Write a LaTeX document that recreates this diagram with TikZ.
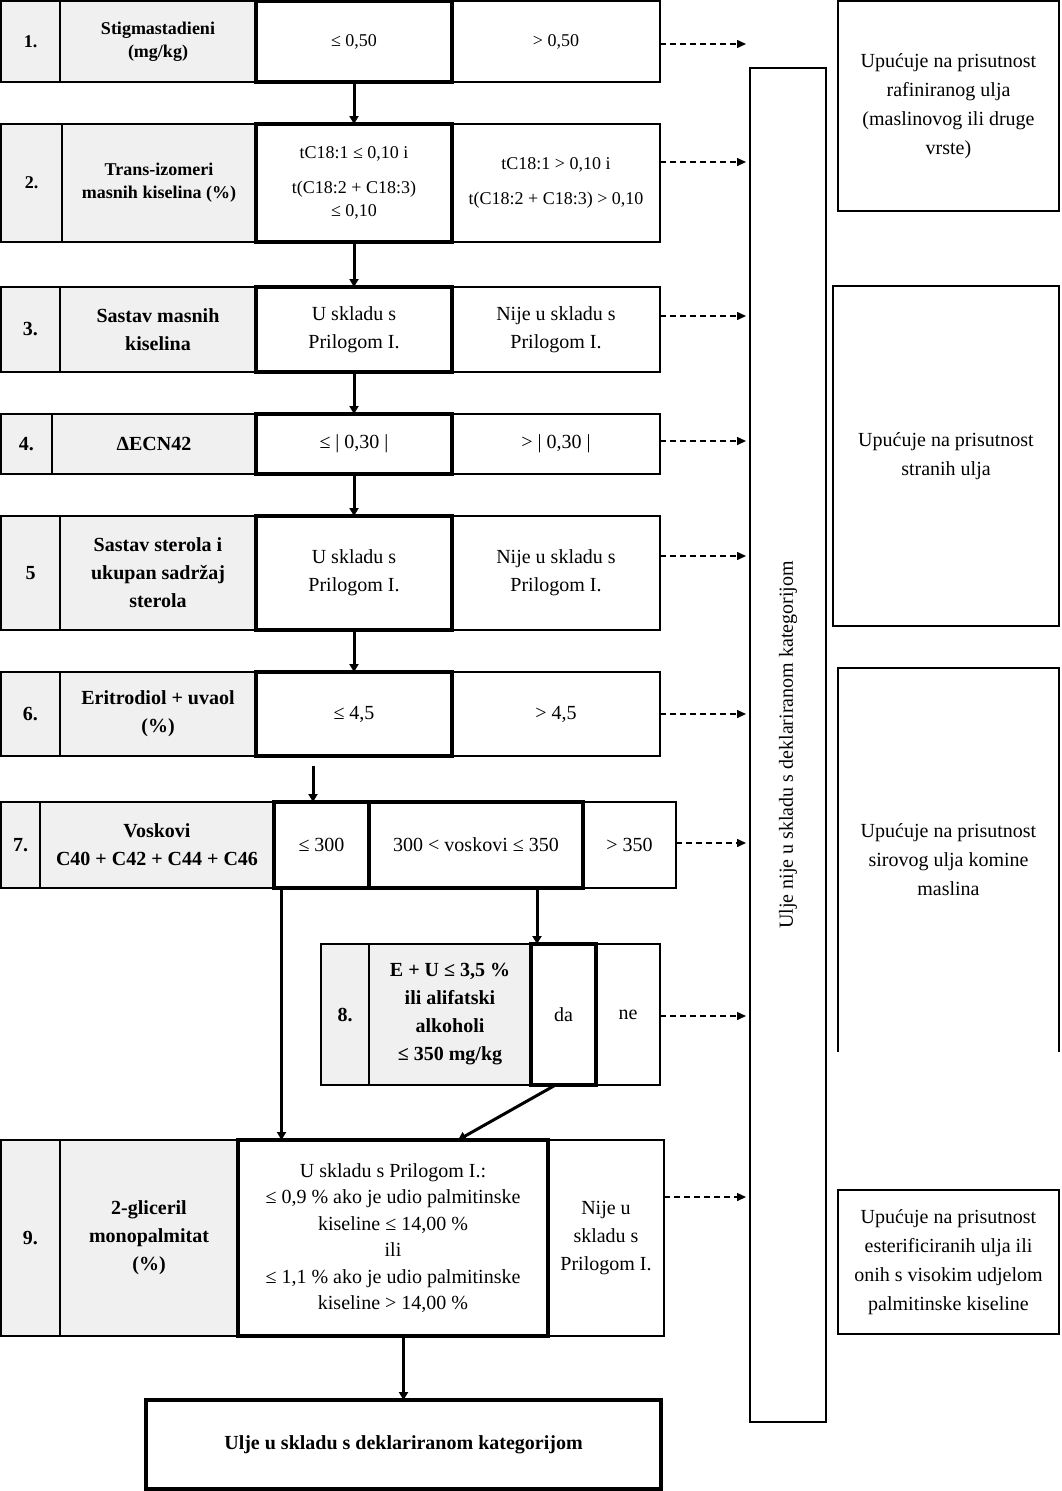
\documentclass[tikz,border=0pt]{standalone}
\usepackage{fontspec}
\setmainfont{Liberation Serif}
\usetikzlibrary{arrows.meta}
\tikzset{
  cellbase/.style={draw, line width=1.6pt, inner sep=0pt, outer sep=0pt, align=center,
    font={\fontsize{20}{28}\selectfont}},
  wcell/.style={cellbase, fill=white},
  gcell/.style={cellbase, fill=black!6},
  lcell/.style={gcell, font={\fontsize{20}{28}\selectfont\bfseries}},
  slcell/.style={gcell, font={\fontsize{18}{23}\selectfont\bfseries}},
  swcell/.style={wcell, font={\fontsize{18}{23}\selectfont}},
  bcell/.style={wcell, line width=3.8pt},
  sbcell/.style={swcell, line width=3.8pt},
  rbox/.style={cellbase, line width=1.9pt, font={\fontsize{20}{29}\selectfont}},
  nobox/.style={inner sep=0pt, outer sep=0pt, align=center, font={\fontsize{20}{29}\selectfont}},
  arr/.style={line width=3pt, -{Triangle[length=8pt,width=9pt]}},
  darr/.style={line width=1.5pt, dash pattern=on 6pt off 4pt, -{Triangle[length=9pt,width=8pt]}, shorten >=4pt},
}
\newcommand\mkcell[7]{\node[#6, minimum width={(#4)-(#2)}, minimum height={(#5)-(#3)}] (#1) at ({((#2)+(#4))/2},{((#3)+(#5))/2}) {#7};}
\begin{document}
\begin{tikzpicture}[x=1pt,y=-1pt]
\useasboundingbox (0,0) rectangle (1061,1491);
% Row 1
\mkcell{n1}{1}{1}{60}{82}{slcell}{1.}
\mkcell{l1}{60}{1}{256}{82}{slcell}{Stigmastadieni\\(mg/kg)}
\mkcell{r1}{452}{1}{660}{82}{swcell}{> 0,50}
\mkcell{m1}{256}{1}{452}{82}{sbcell}{≤ 0,50}
% Row 2
\mkcell{n2}{1}{124}{62}{242}{slcell}{2.}
\mkcell{l2}{62}{124}{256}{242}{slcell}{Trans-izomeri\\masnih kiselina (\%)}
\mkcell{r2}{452}{124}{660}{242}{swcell}{tC18:1 > 0,10 i\\[12pt]t(C18:2 + C18:3) > 0,10}
\mkcell{m2}{256}{124}{452}{242}{sbcell}{tC18:1 ≤ 0,10 i\\[12pt]t(C18:2 + C18:3)\\≤ 0,10}
% Row 3
\mkcell{n3}{1}{287}{60}{372}{lcell}{3.}
\mkcell{l3}{60}{287}{256}{372}{lcell}{Sastav masnih\\kiselina}
\mkcell{r3}{452}{287}{660}{372}{wcell}{Nije u skladu s\\Prilogom I.}
\mkcell{m3}{256}{287}{452}{372}{bcell}{U skladu s\\Prilogom I.}
% Row 4
\mkcell{n4}{1}{414}{52}{474}{lcell}{4.}
\mkcell{l4}{52}{414}{256}{474}{lcell}{ΔECN42}
\mkcell{r4}{452}{414}{660}{474}{wcell}{> | 0,30 |}
\mkcell{m4}{256}{414}{452}{474}{bcell}{≤ | 0,30 |}
% Row 5
\mkcell{n5}{1}{516}{60}{630}{lcell}{5}
\mkcell{l5}{60}{516}{256}{630}{lcell}{Sastav sterola i\\ukupan sadržaj\\sterola}
\mkcell{r5}{452}{516}{660}{630}{wcell}{Nije u skladu s\\Prilogom I.}
\mkcell{m5}{256}{516}{452}{630}{bcell}{U skladu s\\Prilogom I.}
% Row 6
\mkcell{n6}{1}{672}{60}{756}{lcell}{6.}
\mkcell{l6}{60}{672}{256}{756}{lcell}{Eritrodiol + uvaol\\(\%)}
\mkcell{r6}{452}{672}{660}{756}{wcell}{> 4,5}
\mkcell{m6}{256}{672}{452}{756}{bcell}{≤ 4,5}
% Row 7
\mkcell{n7}{1}{802}{40}{888}{lcell}{7.}
\mkcell{l7}{40}{802}{274}{888}{lcell}{Voskovi\\C40 + C42 + C44 + C46}
\mkcell{c7}{583}{802}{676}{888}{wcell}{> 350}
\mkcell{a7}{274}{802}{369}{888}{bcell}{≤ 300}
\mkcell{b7}{369}{802}{583}{888}{bcell}{300 < voskovi ≤ 350}
% Row 8
\mkcell{n8}{321}{944}{369}{1085}{lcell}{8.}
\mkcell{l8}{369}{944}{531}{1085}{lcell}{E + U ≤ 3,5 \%\\ili alifatski\\alkoholi\\≤ 350 mg/kg}
\mkcell{ne8}{596}{944}{660}{1085}{wcell}{ne}
\mkcell{da8}{531}{944}{596}{1085}{bcell}{da}
% Row 9
\mkcell{n9}{1}{1140}{60}{1336}{lcell}{9.}
\mkcell{l9}{60}{1140}{238}{1336}{lcell}{2-gliceril\\monopalmitat\\(\%)}
\mkcell{r9}{548}{1140}{664}{1336}{wcell}{Nije u\\skladu s\\Prilogom I.}
\mkcell{m9}{238}{1140}{548}{1336}{bcell, font={\fontsize{20}{26.5}\selectfont}}{U skladu s Prilogom I.:\\≤ 0,9 \% ako je udio palmitinske\\kiseline ≤ 14,00 \%\\ili\\≤ 1,1 \% ako je udio palmitinske\\kiseline > 14,00 \%}
% Final
\mkcell{fin}{146}{1400}{661}{1489}{bcell, font={\fontsize{20}{28}\selectfont\bfseries}}{Ulje u skladu s deklariranom kategorijom}
% Vertical box
\mkcell{vb}{750}{68}{826}{1422}{rbox}{}
\node[nobox, rotate=90] (vbt) at (vb.center) {Ulje nije u skladu s deklariranom kategorijom};
% Right boxes
\mkcell{rA}{838}{1}{1059}{211}{rbox}{Upućuje na prisutnost\\rafiniranog ulja\\(maslinovog ili druge\\vrste)}
\mkcell{rB}{833}{286}{1059}{626}{rbox}{Upućuje na prisutnost\\stranih ulja}
\mkcell{rC}{838}{668}{1059}{1052}{nobox}{Upućuje na prisutnost\\sirovog ulja komine\\maslina}
\draw[line width=1.9pt] (rC.south west) -- (rC.north west) -- (rC.north east) -- (rC.south east);
\mkcell{rD}{838}{1190}{1059}{1334}{rbox}{Upućuje na prisutnost\\esterificiranih ulja ili\\onih s visokim udjelom\\palmitinske kiseline}
% Main flow arrows
\draw[arr] (m1.south) -- (m2.north);
\draw[arr] (m2.south) -- (m3.north);
\draw[arr] (m3.south) -- (m4.north);
\draw[arr] (m4.south) -- (m5.north);
\draw[arr] (m5.south) -- (m6.north);
\coordinate (s67) at (313,766);
\draw[arr] (s67) -- (s67 |- a7.north);
\draw[arr] ([xshift=-40pt]a7.south) -- ([xshift=-40pt]a7.south |- m9.north);
\draw[arr] ([xshift=61pt]b7.south) -- ([xshift=61pt]b7.south |- da8.north);
\draw[arr] ([xshift=-8pt]da8.south) -- ([xshift=65pt]m9.north);
\draw[arr] (fin.north |- m9.south) -- (fin.north);
% Dashed arrows to vertical box
\draw[darr] ([yshift=-2.5pt]r1.east) -- ([yshift=-2.5pt]r1.east -| vb.west);
\draw[darr] ([yshift=21pt]r2.east) -- ([yshift=21pt]r2.east -| vb.west);
\draw[darr] ([yshift=13.5pt]r3.east) -- ([yshift=13.5pt]r3.east -| vb.west);
\draw[darr] ([yshift=3pt]r4.east) -- ([yshift=3pt]r4.east -| vb.west);
\draw[darr] ([yshift=17pt]r5.east) -- ([yshift=17pt]r5.east -| vb.west);
\draw[darr] (r6.east) -- (r6.east -| vb.west);
\draw[darr] ([yshift=2pt]c7.east) -- ([yshift=2pt]c7.east -| vb.west);
\draw[darr] ([yshift=-1.5pt]ne8.east) -- ([yshift=-1.5pt]ne8.east -| vb.west);
\draw[darr] ([yshift=41pt]r9.east) -- ([yshift=41pt]r9.east -| vb.west);
\end{tikzpicture}
\end{document}
